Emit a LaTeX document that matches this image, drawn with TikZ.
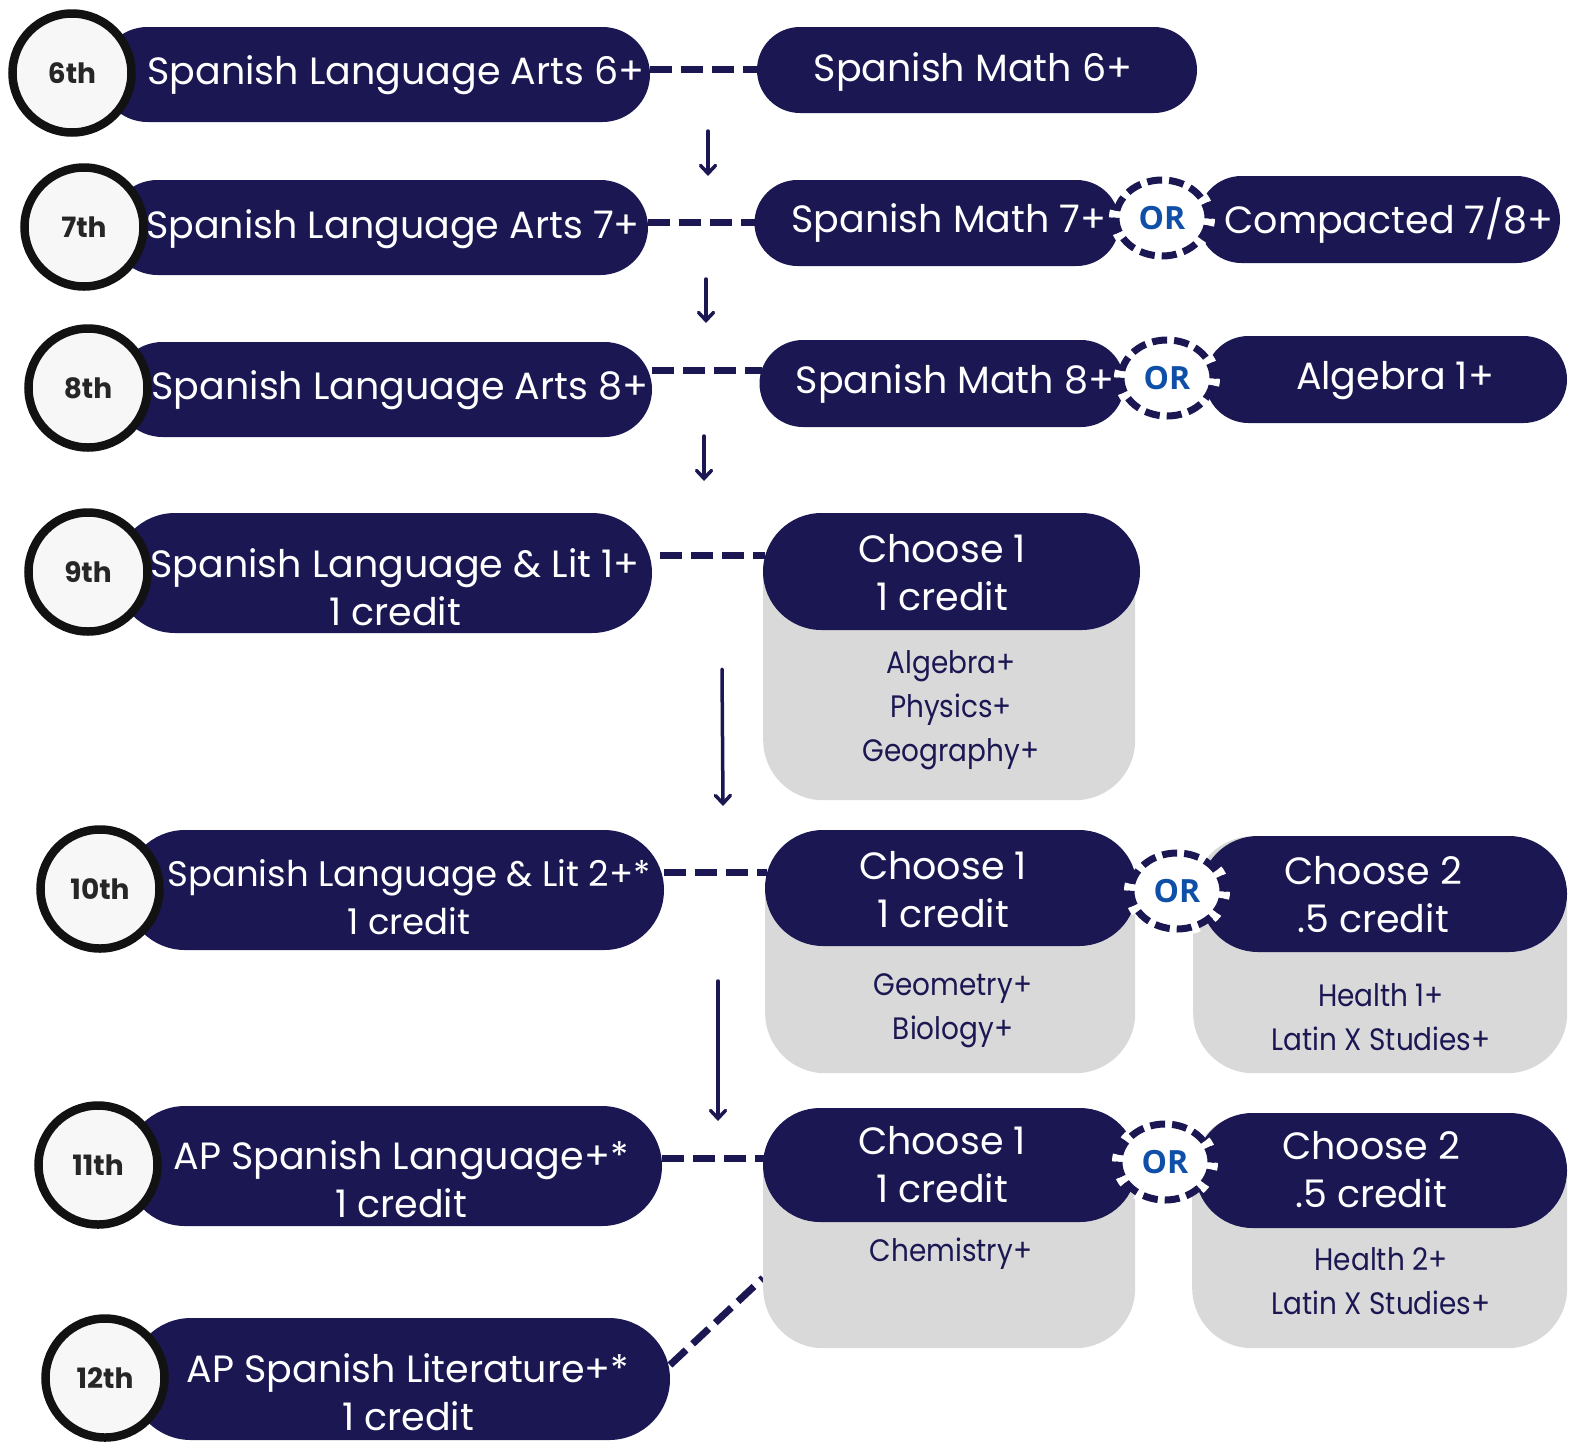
\documentclass[tikz,border=0pt]{standalone}
\usepackage{fontspec}
\setmainfont{Poppins}
\newfontfamily\orfont{Open Sans}
\newfontfamily\itemfont[FakeStretch=0.9]{Poppins}
\usetikzlibrary{shapes.misc,shapes.geometric,arrows.meta}
\definecolor{navy}{HTML}{1A1752}
\definecolor{graybox}{HTML}{D9D9D9}
\definecolor{circfill}{HTML}{F7F7F7}
\definecolor{orblue}{HTML}{0F4FA8}
\begin{document}
\begin{tikzpicture}[x=1pt,y=-1pt,
  bar/.style={rounded rectangle, fill=navy, draw=none, inner sep=0pt, outer sep=0pt},
  btxt/.style={text=white, font=\fontsize{38}{48}\selectfont, align=center, inner sep=0pt},
  grade/.style={circle, draw=black!93, line width=8.5pt, fill=circfill, minimum size=119pt, inner sep=0pt, font=\bfseries\fontsize{28}{30}\selectfont, text=black!85},
  orb/.style={ellipse, fill=white, draw=navy, line width=7pt, dash pattern=on 15pt off 7pt, minimum width=92pt, minimum height=76pt, inner sep=0pt, text=orblue, font=\orfont\bfseries\fontsize{32}{36}\selectfont, preaction={draw=white, line width=14pt, dash pattern=on 7pt off 15pt, dash phase=7pt}},
  gbox/.style={rectangle, rounded corners=60pt, fill=graybox, anchor=north west, inner sep=0pt},
  hdr/.style={rounded rectangle, fill=navy, inner sep=0pt},
  itm/.style={text=navy, align=center, inner sep=0pt, font=\itemfont\fontsize{31}{44}\selectfont},
  dl/.style={draw=navy, line width=7pt, dash pattern=on 22pt off 9pt},
  ar/.style={draw=navy, line width=3.5pt, line cap=round, -{Straight Barb[length=8pt,width=15pt,line cap=round]}}
]
\useasboundingbox (0,0) rectangle (1574,1449);

% connector coordinates
\coordinate (d6a) at (650,69);   \coordinate (d6b) at (758,69);
\coordinate (d7a) at (648,222);  \coordinate (d7b) at (755,222);
\coordinate (d8a) at (652,370);  \coordinate (d8b) at (762,370);
\coordinate (d9a) at (660,555);  \coordinate (d9b) at (765,555);
\coordinate (d10a) at (664,872); \coordinate (d10b) at (767,872);
\coordinate (d11a) at (662,1158);\coordinate (d11b) at (765,1158);
\coordinate (d12a) at (670,1365);\coordinate (d12b) at (763,1278);
\coordinate (a1s) at (708,131); \coordinate (a1e) at (708,176);
\coordinate (a2s) at (706,279); \coordinate (a2e) at (706,323);
\coordinate (a3s) at (704,436); \coordinate (a3e) at (704,481);
\coordinate (a4s) at (722,669); \coordinate (a4e) at (723,806);
\coordinate (a5s) at (718,981); \coordinate (a5e) at (718,1121);

% dashed connectors
\draw[dl] (d6a) -- (d6b);
\draw[dl] (d7a) -- (d7b);
\draw[dl] (d8a) -- (d8b);
\draw[dl] (d9a) -- (d9b);
\draw[dl] (d10a) -- (d10b);
\draw[dl] (d11a) -- (d11b);
\draw[dl] (d12a) -- (d12b);

% arrows
\draw[ar] (a1s) -- (a1e);
\draw[ar] (a2s) -- (a2e);
\draw[ar] (a3s) -- (a3e);
\draw[ar] (a4s) -- (a4e);
\draw[ar] (a5s) -- (a5e);

% gray choice boxes
\node[gbox, minimum width=372pt, minimum height=287pt] (gb9) at (763,513) {};
\node[gbox, minimum width=370pt, minimum height=243pt] (gb10a) at (765,830) {};
\node[gbox, minimum width=374pt, minimum height=237pt] (gb10b) at (1193,836) {};
\node[gbox, minimum width=372pt, minimum height=240pt] (gb11a) at (763,1108) {};
\node[gbox, minimum width=375pt, minimum height=235pt] (gb11b) at (1192,1113) {};

% headers
\node[hdr, minimum width=377pt, minimum height=117pt] (h9) at (951.5,571.5) {};
\node[hdr, minimum width=372pt, minimum height=116pt] (h10a) at (951,888) {};
\node[hdr, minimum width=367pt, minimum height=116pt] (h10b) at (1383.5,894) {};
\node[hdr, minimum width=374pt, minimum height=114pt] (h11a) at (950,1165) {};
\node[hdr, minimum width=372pt, minimum height=115pt] (h11b) at (1381,1170.5) {};

\node[btxt] (h9t) at (942,573) {Choose 1\\1 credit};
\node[btxt] (h10at) at (943,890) {Choose 1\\1 credit};
\node[btxt] (h10bt) at (1373,895) {Choose 2\\.5 credit};
\node[btxt] (h11at) at (942,1165) {Choose 1\\1 credit};
\node[btxt] (h11bt) at (1371,1170) {Choose 2\\.5 credit};

% items
\node[itm] (i9) at (951,710) {Algebra+\\Physics+\\Geography+};
\node[itm] (i10a) at (953,1011) {Geometry+\\Biology+};
\node[itm] (i10b) at (1381,1017) {Health 1+\\Latin X Studies+};
\node[itm] (i11a) at (951,1254) {Chemistry+};
\node[itm] (i11b) at (1381,1281) {Health 2+\\Latin X Studies+};

% main bars
\node[bar, minimum width=550pt, minimum height=95pt] (b6) at (375,74.5) {};
\node[bar, minimum width=538pt, minimum height=95pt] (b7) at (379,227.5) {};
\node[bar, minimum width=537pt, minimum height=95pt] (b8) at (383.5,389.5) {};
\node[bar, minimum width=537pt, minimum height=120pt] (b9) at (383.5,573) {};
\node[bar, minimum width=539pt, minimum height=120pt] (b10) at (394.5,890) {};
\node[bar, minimum width=537pt, minimum height=120pt] (b11) at (393.5,1166) {};
\node[bar, minimum width=540pt, minimum height=122pt] (b12) at (400,1379) {};

% math bars
\node[bar, minimum width=440pt, minimum height=86pt] (m6) at (977,70) {};
\node[bar, minimum width=365pt, minimum height=86pt] (m7) at (937,223) {};
\node[bar, minimum width=362pt, minimum height=87pt] (c7) at (1379,219.5) {};
\node[bar, minimum width=365pt, minimum height=87pt] (m8) at (942,383.5) {};
\node[bar, minimum width=362pt, minimum height=87pt] (al8) at (1386,379.5) {};

% texts
\node[btxt] (t6) at (396,75) {Spanish Language Arts 6+};
\node[btxt] (t7) at (393,229) {Spanish Language Arts 7+};
\node[btxt] (t8) at (400,390) {Spanish Language Arts 8+};
\node[btxt] (t9) at (395,587) {Spanish Language \& Lit 1+\\1 credit};
\node[btxt, font=\fontsize{35.5}{48}\selectfont] (t10) at (409,897) {Spanish Language \& Lit 2+*\\1 credit};
\node[btxt] (t11) at (401,1179) {AP Spanish Language+*\\1 credit};
\node[btxt] (t12) at (408,1392) {AP Spanish Literature+*\\1 credit};
\node[btxt] (tm6) at (973,72) {Spanish Math 6+};
\node[btxt] (tm7) at (949,223) {Spanish Math 7+};
\node[btxt] (tc7) at (1389,221) {Compacted 7/8+};
\node[btxt] (tm8) at (955,384) {Spanish Math 8+};
\node[btxt] (tal8) at (1395,381) {Algebra 1+};

% OR bubbles
\node[orb] (or7) at (1162,218) {OR};
\node[orb] (or8) at (1167,378) {OR};
\node[orb] (or10) at (1177,891) {OR};
\node[orb] (or11) at (1165,1162) {OR};

% grade circles
\node[grade] (g6) at (72,73) {6th};
\node[grade] (g7) at (84,227) {7th};
\node[grade] (g8) at (88,388) {8th};
\node[grade] (g9) at (88,572) {9th};
\node[grade] (g10) at (100,889) {10th};
\node[grade] (g11) at (98,1165) {11th};
\node[grade] (g12) at (105,1378) {12th};
\end{tikzpicture}
\end{document}
